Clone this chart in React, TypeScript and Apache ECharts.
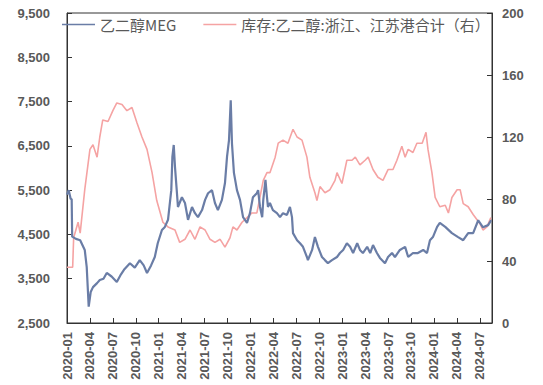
import React, { useEffect, useRef } from "react";
import * as echarts from "echarts";

const SERIES_NAMES = ["乙二醇MEG", "库存:乙二醇:浙江、江苏港合计（右）"];

const LEFT_TICKS = [2500, 3500, 4500, 5500, 6500, 7500, 8500, 9500];
const RIGHT_TICKS = [0, 40, 80, 120, 160, 200];

const MEG_DATES = [
  "2020-01-01", "2020-01-08", "2020-01-16", "2020-01-20", "2020-01-22", "2020-02-06", "2020-02-22", "2020-03-11",
  "2020-03-19", "2020-03-27", "2020-04-04", "2020-04-13", "2020-04-29", "2020-05-10", "2020-05-25", "2020-06-07",
  "2020-06-26", "2020-07-17", "2020-08-03", "2020-08-15", "2020-09-08", "2020-09-27", "2020-10-17", "2020-11-02",
  "2020-11-15", "2020-12-01", "2020-12-16", "2020-12-28", "2021-01-14", "2021-01-26", "2021-02-07", "2021-02-19",
  "2021-02-23", "2021-02-28", "2021-03-05", "2021-03-12", "2021-03-17", "2021-04-02", "2021-04-14", "2021-04-26",
  "2021-05-12", "2021-05-24", "2021-06-05", "2021-06-21", "2021-07-03", "2021-07-15", "2021-07-31", "2021-08-12",
  "2021-08-24", "2021-09-09", "2021-09-21", "2021-09-29", "2021-10-07", "2021-10-14", "2021-10-19", "2021-10-27",
  "2021-11-08", "2021-11-20", "2021-12-02", "2021-12-18", "2021-12-30", "2022-01-11", "2022-01-27", "2022-02-01",
  "2022-02-08", "2022-02-16", "2022-02-20", "2022-02-28", "2022-03-06", "2022-03-10", "2022-03-18", "2022-03-30",
  "2022-04-15", "2022-04-27", "2022-05-09", "2022-05-25", "2022-06-06", "2022-06-14", "2022-06-18", "2022-07-04",
  "2022-07-16", "2022-07-28", "2022-08-13", "2022-08-17", "2022-09-03", "2022-09-14", "2022-09-26", "2022-10-12",
  "2022-10-24", "2022-11-05", "2022-11-21", "2022-12-11", "2022-12-23", "2023-01-05", "2023-01-20", "2023-02-02",
  "2023-02-13", "2023-02-28", "2023-03-11", "2023-03-23", "2023-04-09", "2023-04-21", "2023-05-02", "2023-05-18",
  "2023-05-30", "2023-06-19", "2023-07-01", "2023-07-17", "2023-07-29", "2023-08-18", "2023-09-08", "2023-09-20",
  "2023-10-09", "2023-10-29", "2023-11-19", "2023-12-04", "2023-12-16", "2023-12-28", "2024-01-14", "2024-01-25",
  "2024-02-15", "2024-03-12", "2024-04-06", "2024-04-26", "2024-05-16", "2024-06-05", "2024-06-25", "2024-07-14",
  "2024-08-04", "2024-08-16",
];
const MEG_VALUES = [
  5400, 5500, 5300, 5300, 4450, 4400, 4370, 4150,
  3760, 2870, 3200, 3310, 3400, 3470, 3500, 3630,
  3550, 3425, 3600, 3700, 3850, 3750, 3920, 3800,
  3630, 3800, 3990, 4300, 4600, 4670, 4830, 5500,
  6250, 6520, 6020, 5500, 5120, 5340, 5210, 4830,
  5120, 4980, 4890, 5050, 5280, 5430, 5500, 5210,
  5050, 5280, 5660, 6250, 6630, 7530, 6560, 5890,
  5500, 5280, 4890, 4760, 4980, 5340, 5430, 5500,
  5120, 4890, 5280, 5730, 5340, 5120, 5210, 5050,
  4980, 4890, 4980, 4940, 5120, 4890, 4530, 4370,
  4300, 4220, 3990, 3920, 4150, 4440, 4220, 3990,
  3920, 3850, 3920, 3990, 4080, 4150, 4300, 4220,
  4080, 4300, 4150, 4080, 4220, 4080, 4260, 4080,
  3970, 3850, 3990, 4080, 3990, 4150, 4220, 3990,
  4080, 4080, 4150, 4080, 4370, 4440, 4670, 4760,
  4670, 4530, 4440, 4370, 4530, 4530, 4820, 4660,
  4710, 4820,
];

const STOCK_DATES = [
  "2020-01-01", "2020-01-24", "2020-01-28", "2020-02-14", "2020-02-22", "2020-03-11", "2020-04-01", "2020-04-13",
  "2020-04-29", "2020-05-10", "2020-05-22", "2020-06-12", "2020-07-01", "2020-07-17", "2020-08-07", "2020-08-27",
  "2020-09-16", "2020-10-06", "2020-10-26", "2020-11-15", "2020-12-05", "2020-12-24", "2021-01-18", "2021-02-07",
  "2021-03-05", "2021-03-24", "2021-04-14", "2021-05-04", "2021-05-24", "2021-06-13", "2021-07-03", "2021-07-23",
  "2021-08-12", "2021-09-02", "2021-09-21", "2021-10-11", "2021-10-23", "2021-11-08", "2021-11-28", "2021-12-18",
  "2022-01-07", "2022-01-27", "2022-02-20", "2022-03-06", "2022-03-18", "2022-04-08", "2022-04-20", "2022-05-09",
  "2022-05-29", "2022-06-18", "2022-07-04", "2022-07-24", "2022-08-13", "2022-08-25", "2022-09-14", "2022-09-22",
  "2022-10-04", "2022-10-24", "2022-11-13", "2022-12-03", "2022-12-11", "2022-12-31", "2023-01-20", "2023-02-09",
  "2023-02-21", "2023-03-11", "2023-04-01", "2023-04-13", "2023-05-02", "2023-05-22", "2023-06-11", "2023-07-01",
  "2023-07-21", "2023-08-06", "2023-08-26", "2023-09-08", "2023-09-20", "2023-10-09", "2023-10-25", "2023-11-15",
  "2023-11-30", "2023-12-08", "2023-12-24", "2024-01-06", "2024-01-25", "2024-02-15", "2024-02-27", "2024-03-12",
  "2024-04-02", "2024-04-14", "2024-04-26", "2024-05-16", "2024-06-05", "2024-07-02", "2024-07-14", "2024-07-30",
  "2024-08-15",
];
const STOCK_VALUES = [
  36, 36, 55, 65, 58, 86, 112, 115,
  107, 120, 131, 130, 137, 142, 141, 137,
  139, 129, 120, 112, 97, 79, 65, 62,
  60, 52, 54, 60, 54, 62, 60, 54,
  52, 54, 49, 55, 62, 60, 65, 68,
  71, 71, 92, 97, 97, 107, 116, 118,
  116, 125, 120, 118, 107, 94, 84, 79,
  88, 84, 86, 92, 97, 90, 105, 105,
  107, 102, 105, 107, 99, 94, 92, 99,
  99, 105, 114, 107, 112, 110, 116, 116,
  123, 112, 97, 81, 75, 76, 71, 81,
  86, 86, 77, 75, 70, 64, 60, 62,
  68,
];

const LEFT_BASE = LEFT_TICKS[0];
const X_MAX_MONTHS = 55.6;

function monthIndex(d: string): number {
  const [y, m, dd] = d.split("-").map(Number);
  const days = new Date(y, m, 0).getDate();
  return (y - 2020) * 12 + (m - 1) + (dd - 1) / days;
}

function monthLabel(v: number): string {
  const r = Math.round(v);
  const y = 2020 + Math.floor(r / 12);
  const mo = (r % 12) + 1;
  return `${y}-${String(mo).padStart(2, "0")}`;
}

const AXIS_COLOR = "#333333";
const LABEL_COLOR = "#595959";

export default function App() {
  const ref = useRef<HTMLDivElement>(null);
  useEffect(() => {
    if (!ref.current) return;
    const chart = echarts.init(ref.current, undefined, { renderer: "svg" });
    const megData = MEG_DATES.map((d, i) => [monthIndex(d), MEG_VALUES[i] - LEFT_BASE]);
    const stockData = STOCK_DATES.map((d, i) => [monthIndex(d), STOCK_VALUES[i]]);
    chart.setOption({
      animation: false,
      backgroundColor: "#ffffff",
      grid: {
        left: 67,
        right: 51,
        top: 13,
        bottom: 62,
        show: true,
        borderColor: AXIS_COLOR,
        borderWidth: 1,
        containLabel: false,
      },
      legend: {
        show: true,
        left: 57,
        top: 12,
        icon: "rect",
        itemWidth: 33,
        itemHeight: 1.5,
        itemGap: 27,
        textStyle: {
          fontSize: 15,
          color: LABEL_COLOR,
          fontFamily: "'Noto Sans CJK SC', sans-serif",
        },
        data: SERIES_NAMES,
      },
      xAxis: {
        type: "value",
        min: 0,
        max: X_MAX_MONTHS,
        interval: 3,
        splitLine: { show: false },
        axisLine: { show: true, lineStyle: { color: AXIS_COLOR, width: 1 } },
        axisTick: { show: true, inside: true, length: 5, lineStyle: { color: AXIS_COLOR } },
        axisLabel: {
          rotate: 90,
          margin: 9,
          showMaxLabel: false,
          fontSize: 13,
          fontWeight: "bold",
          color: LABEL_COLOR,
          fontFamily: "'Liberation Sans', Arial, sans-serif",
          formatter: (v: number) => monthLabel(v),
        },
      },
      yAxis: [
        {
          type: "value",
          position: "left",
          min: 0,
          max: LEFT_TICKS[LEFT_TICKS.length - 1] - LEFT_BASE,
          interval: LEFT_TICKS[1] - LEFT_TICKS[0],
          splitLine: { show: false },
          axisLine: { show: true, lineStyle: { color: AXIS_COLOR, width: 1 } },
          axisTick: { show: true, inside: true, length: 5, lineStyle: { color: AXIS_COLOR } },
          axisLabel: {
            margin: 17,
            fontSize: 13,
            fontWeight: "bold",
            color: LABEL_COLOR,
            fontFamily: "'Liberation Sans', Arial, sans-serif",
            formatter: (v: number) => (v + LEFT_BASE).toLocaleString("en-US"),
          },
        },
        {
          type: "value",
          position: "right",
          min: RIGHT_TICKS[0],
          max: RIGHT_TICKS[RIGHT_TICKS.length - 1],
          interval: RIGHT_TICKS[1] - RIGHT_TICKS[0],
          splitLine: { show: false },
          axisLine: { show: true, lineStyle: { color: AXIS_COLOR, width: 1 } },
          axisTick: { show: true, inside: true, length: 5, lineStyle: { color: AXIS_COLOR } },
          axisLabel: {
            margin: 10,
            fontSize: 13,
            fontWeight: "bold",
            color: LABEL_COLOR,
            fontFamily: "'Liberation Sans', Arial, sans-serif",
          },
        },
      ],
      series: [
        {
          name: SERIES_NAMES[1],
          type: "line",
          yAxisIndex: 1,
          data: stockData,
          showSymbol: false,
          symbol: "none",
          lineStyle: { color: "#F5A3A3", width: 1.6 },
          itemStyle: { color: "#F5A3A3" },
          z: 2,
        },
        {
          name: SERIES_NAMES[0],
          type: "line",
          yAxisIndex: 0,
          data: megData,
          showSymbol: false,
          symbol: "none",
          lineStyle: { color: "#6A7DA6", width: 2.2 },
          itemStyle: { color: "#6A7DA6" },
          z: 3,
        },
      ],
    });
    return () => chart.dispose();
  }, []);
  return (
    <div
      ref={ref}
      style={{ position: "fixed", left: 0, top: 0, width: 543, height: 385, background: "#fff" }}
    />
  );
}
